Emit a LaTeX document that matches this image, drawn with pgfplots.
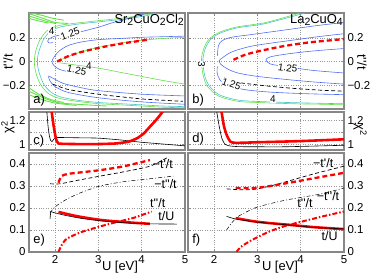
\documentclass[border=0pt]{standalone}
\usepackage{fontspec}
\setmainfont{Liberation Sans}
\usepackage{pgfplots}
\pgfplotsset{compat=1.18}
\definecolor{cgreen}{RGB}{100,225,70}
\definecolor{ccyan}{RGB}{70,200,200}
\definecolor{cblue}{RGB}{80,110,240}
\definecolor{frm}{RGB}{135,135,135}
\newcommand\q{\textquotesingle}
\newcommand\fs{\fontsize{11.5}{13}\selectfont}
\newcommand\fp{\fontsize{13}{14}\selectfont}
\newcommand\fc{\fontsize{12.5}{14}\selectfont}
\newcommand\fl{\fontsize{10}{11}\selectfont}
\newcommand\sub[1]{\raisebox{-0.3ex}{\fontsize{10.5}{11}\selectfont #1}}
\tikzset{clab/.style={font=\fl, fill=white, inner sep=0.3pt}}
\pgfplotsset{
  panel/.style={scale only axis, width=156bp, xmin=1.4, xmax=5, xtick={2,3,4,5},
    anchor=south west,
    axis line style={draw=frm, line width=1.3pt},
    grid=major, major grid style={dotted, gray!80, line width=0.5pt},
    tick align=inside, major tick length=2.5bp, tick style={frm, line width=0.5pt},
    ticklabel style={font=\fs},
    /pgf/number format/assume math mode=true,
    clip mode=individual,
  },
  ctr/.style={line width=0.6pt, smooth, tension=0.5, no markers},
  rdash/.style={red, line width=2.3pt, dash pattern=on 5pt off 3pt, no markers},
  rsol/.style={red, line width=2.6pt, no markers, smooth, tension=0.4},
  rdd/.style={red, line width=2pt, dash pattern=on 5pt off 2pt on 1.5pt off 2pt, no markers, smooth, tension=0.4},
  kdash/.style={black, line width=0.7pt, dash pattern=on 4pt off 2.5pt, no markers, smooth, tension=0.4},
  kdd/.style={black, line width=0.5pt, dash pattern=on 4pt off 2pt on 1pt off 2pt, no markers, smooth, tension=0.4},
  ksol/.style={black, line width=0.6pt, no markers, smooth, tension=0.4},
}
\begin{document}
\begin{tikzpicture}
\useasboundingbox (0,0) rectangle (374bp,280bp);
% ---------------- panel a
\begin{axis}[panel, at={(29bp,171bp)}, height=96bp,
  ymin=-0.4, ymax=0.41, ytick={-0.2,0,0.2}, yticklabels={−0.2,0,0.2}, xticklabels={}]
\addplot[cgreen, ctr, line width=0.9pt] coordinates {(1.4,0.405) (1.6,0.38) (1.8,0.355) (2.0,0.33) (2.3,0.322)};
\addplot[cgreen, ctr, line width=0.9pt] coordinates {(1.4,0.385) (1.6,0.362) (1.8,0.34) (2.0,0.322)};
\addplot[cgreen, ctr, line width=0.9pt] coordinates {(1.45,0.41) (1.7,0.39) (1.95,0.365) (2.2,0.35)};
\addplot[cgreen, ctr, line width=0.9pt] coordinates {(1.4,0.365) (1.6,0.345) (1.85,0.325)};
\addplot[cgreen, ctr, line width=0.9pt] coordinates {(1.4,-0.25) (1.7,-0.3) (2.05,-0.345) (2.5,-0.36) (3.2,-0.375)};
\addplot[cgreen, ctr, line width=0.9pt] coordinates {(1.4,-0.28) (1.7,-0.32) (2.0,-0.35) (2.5,-0.37)};
\addplot[cgreen, ctr, line width=0.9pt] coordinates {(1.4,-0.22) (1.6,-0.27) (1.9,-0.32) (2.2,-0.345)};
\addplot[cgreen, ctr] coordinates {(4.35,0.41) (4.0,0.39) (3.5,0.365) (3.0,0.345) (2.5,0.325) (2.1,0.305) (1.85,0.27) (1.68,0.2) (1.58,0.12) (1.53,0.04) (1.53,-0.04) (1.58,-0.12) (1.68,-0.2) (1.85,-0.27) (2.1,-0.31) (2.5,-0.335) (3,-0.355) (3.5,-0.365) (4,-0.375) (4.5,-0.385) (5,-0.39)};
\addplot[ccyan, ctr] coordinates {(4.4,0.41) (4.0,0.38) (3.5,0.355) (3.0,0.335) (2.5,0.315) (2.1,0.29) (1.88,0.25) (1.74,0.19) (1.65,0.11) (1.6,0.04) (1.6,-0.04) (1.65,-0.11) (1.74,-0.19) (1.88,-0.25) (2.1,-0.295) (2.5,-0.325) (3,-0.345) (3.5,-0.355) (4,-0.365) (4.5,-0.375) (5,-0.38)};
\addplot[cblue, ctr] coordinates {(1.95,0.16) (1.86,0.158) (1.83,0.172) (1.88,0.195) (2.0,0.215) (2.1,0.222)};
\addplot[cblue, ctr] coordinates {(2.6,0.252) (3.0,0.29) (3.3,0.325) (3.6,0.355) (3.9,0.385) (4.15,0.41)};
\addplot[cblue, ctr] coordinates {(5,0.215) (4.5,0.21) (4,0.205) (3.5,0.195) (3,0.185) (2.6,0.165) (2.3,0.135) (2.1,0.09) (1.98,0.04) (1.93,0) (1.98,-0.035) (2.1,-0.065) (2.3,-0.085) (2.4,-0.092)};
\addplot[cgreen, ctr] coordinates {(2.1,0.01) (2.5,0.07) (3,0.12) (3.5,0.155) (4,0.18) (4.5,0.195) (5,0.205)};
\addplot[cgreen, ctr] coordinates {(2.1,-0.01) (2.5,-0.03) (3.0,-0.055) (3.5,-0.09) (4,-0.125) (4.5,-0.16) (5,-0.19)};
\addplot[cblue, ctr] coordinates {(1.85,-0.12) (1.95,-0.14) (2.2,-0.185) (2.6,-0.22) (3,-0.245) (4,-0.275) (5,-0.29)};
\addplot[cblue, ctr] coordinates {(1.85,-0.125) (1.88,-0.16) (2.0,-0.21) (2.3,-0.26) (3,-0.305) (4,-0.34) (5,-0.36)};
\addplot[kdash] coordinates {(1.95,-0.19) (2.3,-0.235) (3,-0.275) (4,-0.315) (4.95,-0.335)};
\addplot[rdash, smooth, tension=0.4] coordinates {(2.05,0.0) (2.3,0.045) (2.6,0.08) (3,0.115) (3.5,0.15) (4.15,0.185)};
\node[clab] at (axis cs:1.92,0.255) {4};
\node[clab, rotate=20] at (axis cs:2.35,0.235) {1.25};
\node[clab, rotate=-12] at (axis cs:2.5,-0.075) {1.25};
\node[clab] at (axis cs:2.78,-0.035) {4};
\node[anchor=north east, inner sep=1pt, font=\fp] at (rel axis cs:1,1) {Sr\sub{2}CuO\sub{2}Cl\sub{2}};
\node[anchor=south west, inner sep=1pt, font=\fp] at (rel axis cs:0.02,0.02) {a)};
\end{axis}
% ---------------- panel b
\begin{axis}[panel, at={(188bp,171bp)}, height=96bp,
  ymin=-0.4, ymax=0.41, ytick={-0.2,0,0.2}, yticklabels={−0.2,0,0.2}, yticklabel pos=right, xticklabels={}]
\addplot[cgreen, ctr] coordinates {(4.0,0.41) (3.8,0.39) (3.2,0.33) (2.9,0.312) (2.5,0.29) (2.14,0.25) (1.9,0.195) (1.78,0.125) (1.72,0.05) (1.71,0) (1.72,-0.05) (1.76,-0.13) (1.85,-0.21) (2.1,-0.29) (2.55,-0.335) (3,-0.345) (3.5,-0.352) (4,-0.357) (4.5,-0.36) (5,-0.365)};
\addplot[ccyan, ctr] coordinates {(4.1,0.41) (3.8,0.38) (3.2,0.322) (2.9,0.304) (2.5,0.282) (2.14,0.24) (1.93,0.19) (1.81,0.12) (1.755,0.05) (1.745,0) (1.755,-0.05) (1.79,-0.125) (1.88,-0.2) (2.12,-0.28) (2.55,-0.325) (3,-0.336) (3.5,-0.343) (4,-0.348) (4.5,-0.352) (5,-0.356)};
\addplot[cblue, ctr] coordinates {(2.08,0.05) (2.1,0.13) (2.18,0.175) (2.4,0.205) (2.8,0.225) (3.2,0.245) (3.8,0.275) (4.4,0.305) (5,0.33)};
\addplot[cblue, ctr] coordinates {(5,0.235) (4.4,0.21) (3.8,0.18) (3.2,0.15) (2.8,0.125) (2.4,0.08) (2.15,0.02) (2.12,0) (2.15,-0.02) (2.3,-0.06) (2.55,-0.096) (3.0,-0.125) (3.7,-0.152) (4.3,-0.172) (5,-0.19)};
\addplot[cblue, ctr] coordinates {(5,0.11) (4.3,0.09) (3.7,0.065) (3.3,0.04) (3.2,0.015) (3.3,-0.02) (3.7,-0.045) (4.3,-0.075) (5,-0.096)};
\addplot[cblue, ctr] coordinates {(2.08,-0.04) (2.07,-0.09) (2.13,-0.15) (2.3,-0.2) (2.7,-0.236) (3.2,-0.255) (3.7,-0.265) (4.3,-0.273) (5,-0.279)};
\addplot[kdash] coordinates {(2.62,-0.18) (3.2,-0.205) (3.8,-0.225) (4.4,-0.24) (5,-0.25)};
\addplot[black, line width=0.7pt] coordinates {(2.24,-0.135) (2.29,-0.16)};
\addplot[rdash, smooth, tension=0.4] coordinates {(2.45,0.015) (2.7,0.055) (3,0.085) (3.6,0.13) (4.2,0.162) (5,0.19)};
\node[clab, rotate=-90] at (axis cs:1.715,-0.02) {3};
\node[clab, rotate=-20] at (axis cs:2.4,-0.19) {1.25};
\node[clab, rotate=-8] at (axis cs:3.7,-0.054) {1.25};
\node[clab] at (axis cs:3.36,-0.315) {4};
\node[anchor=north east, inner sep=1pt, font=\fp] at (rel axis cs:1,1) {La\sub{2}CuO\sub{4}};
\node[anchor=south west, inner sep=1pt, font=\fp] at (rel axis cs:0.02,0.02) {b)};
\end{axis}
% ---------------- panel c
\begin{axis}[panel, at={(29bp,130bp)}, height=38bp,
  ymin=0.95, ymax=1.27, ytick={1,1.1,1.2}, yticklabels={1,,1.2}, xticklabels={}]
\addplot[ksol, tension=0.3] coordinates {(1.81,1.28) (1.84,1.15) (1.87,1.07) (1.9,1.03) (1.93,1.02) (1.97,1.04) (2.04,1.055) (2.5,1.053) (3,1.05) (3.5,1.035) (4,1.015) (4.5,1.0) (5,0.985)};
\addplot[rsol, tension=0.3] coordinates {(1.92,1.28) (1.97,1.15) (2.02,1.05) (2.08,1.005) (2.5,1.0) (3,1.0) (3.4,1.005) (3.7,1.02) (3.9,1.05) (4.05,1.09) (4.2,1.15) (4.35,1.21) (4.5,1.28)};
\node[anchor=west, inner sep=1pt, font=\fp] at (rel axis cs:0.02,0.22) {c)};
\end{axis}
% ---------------- panel d
\begin{axis}[panel, at={(188bp,130bp)}, height=38bp,
  ymin=0.95, ymax=1.27, ytick={1,1.1,1.2}, yticklabels={1,,1.2}, yticklabel pos=right, xticklabels={}]
\addplot[ksol, tension=0.3] coordinates {(2.06,1.28) (2.12,1.15) (2.18,1.05) (2.25,1.0) (2.35,0.985) (2.6,0.978) (3.6,0.977) (4.5,0.985) (5,0.99)};
\addplot[rsol, tension=0.3] coordinates {(2.17,1.28) (2.23,1.15) (2.3,1.07) (2.38,1.02) (2.5,1.01) (3,1.015) (4,1.025) (5,1.04)};
\node[anchor=west, inner sep=1pt, font=\fp] at (rel axis cs:0.02,0.28) {d)};
\end{axis}
% ---------------- panel e
\begin{axis}[panel, at={(29bp,28bp)}, height=99bp,
  ymin=0, ymax=0.45, ytick={0,0.1,0.2,0.3,0.4}, yticklabels={0,0.1,0.2,0.3,0.4}]
\addplot[rdash, smooth, tension=0.4] coordinates {(2.08,0.315) (2.15,0.345) (2.3,0.355) (2.6,0.362) (3.04,0.372) (3.6,0.39) (4.19,0.418)};
\addplot[kdash] coordinates {(1.885,0.31) (2.12,0.31) (2.5,0.325) (3.04,0.345) (3.6,0.365) (4.19,0.39) (4.6,0.43)};
\addplot[kdd] coordinates {(1.885,0.177) (2.0,0.205) (2.27,0.24) (2.6,0.27) (3.04,0.3) (3.6,0.32) (4.19,0.333) (4.73,0.345)};
\addplot[rdd] coordinates {(2.08,0.0) (2.15,0.03) (2.27,0.06) (2.6,0.09) (3.04,0.116) (3.4,0.135) (3.81,0.155) (4.23,0.184)};
\addplot[rsol] coordinates {(2.08,0.182) (2.5,0.163) (3.04,0.146) (3.6,0.136) (4.19,0.128)};
\addplot[ksol] coordinates {(1.885,0.184) (2.2,0.168) (2.6,0.153) (3.04,0.142) (3.6,0.133) (4.2,0.128) (4.81,0.127)};
\addplot[ksol] coordinates {(1.9,0.18) (1.885,0.15)};
\node[font=\fc] at (axis cs:4.49,0.398) {−t\q/t};
\node[font=\fc] at (axis cs:4.55,0.307) {−t\q\q/t};
\node[font=\fc] at (axis cs:4.37,0.223) {t\q\q/t};
\node[font=\fc] at (axis cs:4.57,0.162) {t/U};
\node[anchor=west, inner sep=1pt, font=\fp] at (rel axis cs:0.02,0.12) {e)};
\end{axis}
% ---------------- panel f
\begin{axis}[panel, at={(188bp,28bp)}, height=99bp,
  ymin=0, ymax=0.45, ytick={0,0.1,0.2,0.3,0.4}, yticklabels={0,0.1,0.2,0.3,0.4}, yticklabel pos=right]
\addplot[kdash] coordinates {(2.29,0.287) (2.6,0.283) (2.94,0.285) (3.3,0.3) (3.71,0.322) (4.3,0.355) (5,0.39)};
\addplot[rdash, smooth, tension=0.4] coordinates {(2.5,0.291) (2.94,0.291) (3.3,0.3) (3.71,0.314) (4.3,0.335) (5,0.36)};
\addplot[kdd] coordinates {(2.29,0.1) (2.4,0.13) (2.56,0.162) (2.94,0.2) (3.3,0.22) (3.71,0.238) (4.47,0.264) (5,0.291)};
\addplot[rdd] coordinates {(2.52,0.0) (2.6,0.02) (2.75,0.04) (2.94,0.061) (3.3,0.095) (3.71,0.122) (4.47,0.16) (5,0.184)};
\addplot[rsol] coordinates {(2.5,0.154) (2.9,0.14) (3.3,0.131) (3.71,0.124) (4.3,0.113) (5,0.104)};
\addplot[ksol] coordinates {(2.29,0.162) (2.5,0.15) (2.9,0.138) (3.3,0.13) (3.71,0.123) (4.3,0.112) (5,0.105)};
\node[font=\fc] at (axis cs:4.52,0.406) {−t\q/t};
\node[font=\fc] at (axis cs:4.63,0.253) {−t\q\q/t};
\node[font=\fc] at (axis cs:4.1,0.223) {t\q\q/t};
\node[font=\fc] at (axis cs:4.67,0.073) {t/U};
\node[anchor=west, inner sep=1pt, font=\fp] at (rel axis cs:0.02,0.12) {f)};
\end{axis}
% axis titles
\node[rotate=90, font=\fp] at (8bp,218bp) {t\q\q/t};
\node[rotate=90, font=\fp] at (8bp,153bp) {χ\textsuperscript{2}};
\node[rotate=-90, font=\fp] at (362bp,218bp) {t\q\q/t};
\node[rotate=-90, font=\fp] at (360bp,150bp) {χ\textsuperscript{2}};
\node[font=\fp] at (120bp,13bp) {U [eV]};
\node[font=\fp] at (280bp,13bp) {U [eV]};
\end{tikzpicture}
\end{document}
